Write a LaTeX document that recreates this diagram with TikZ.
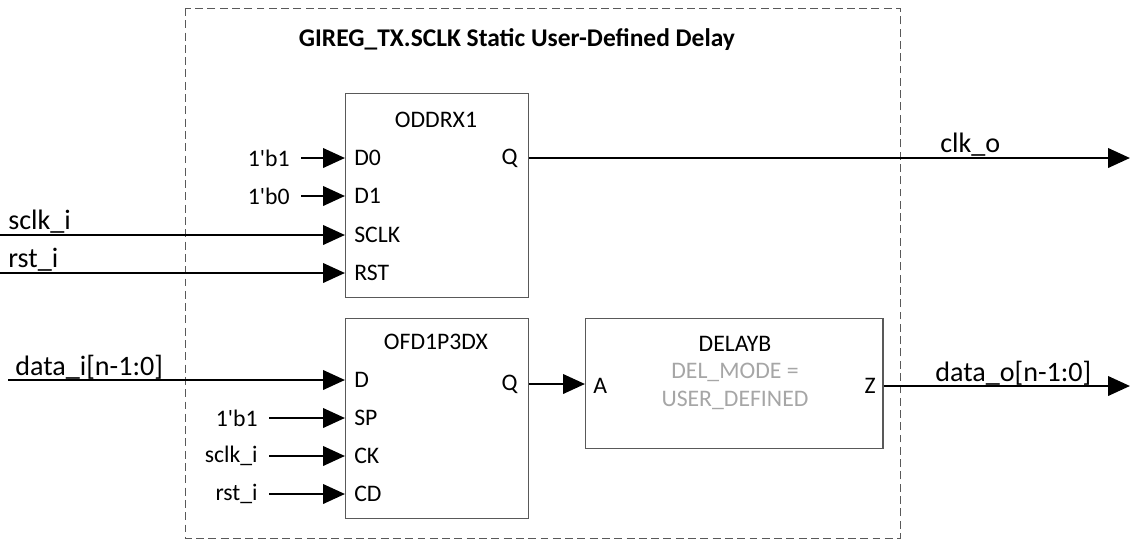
\documentclass[tikz,border=0pt]{standalone}
\usepackage{fontspec}
\setmainfont{Carlito}
\usetikzlibrary{positioning,arrows.meta}
\definecolor{frame}{HTML}{595959}
\definecolor{param}{HTML}{A6A6A6}

\begin{document}
\begin{tikzpicture}[x=0.02cm, y=-0.02cm,
      blk/.style={draw=frame, line width=0.6pt, anchor=north west,
      inner sep=0pt},
      port/.style={font=\fontsize{13.5}{15}\selectfont, inner sep=0pt},
      tag/.style={font=\fontsize{13.5}{15}\selectfont, inner sep=0pt,
      anchor=east},
      sig/.style={-{Triangle[length=12.5pt, width=11pt]}, line width=1.6pt},
      fromtag/.style={shorten <=6.5pt},
      wire/.style={font=\fontsize{16}{18}\selectfont, inner sep=0pt,
      anchor=base west},
    ]
    \useasboundingbox (0,0) rectangle (1130,542);

    % Wrapper
    \draw[frame, dash pattern=on 4.5pt off 2.5pt, line width=0.5pt]
      (185,8) rectangle (900,538);
    \node[font=\bfseries\fontsize{14.5}{16}\selectfont] (title) at (517,40)
      {GIREG\_TX.SCLK Static User-Defined Delay};

    % ODDRX1
    \node[blk, minimum width=3.66cm, minimum height=4.08cm] (oddr) at (345,93) {};
    \node[port] (oddrname) at (436,120) {ODDRX1};
    \node[port, anchor=west] (d0) at (354,158) {D0};
    \node[port, anchor=west] (d1) at (354,196) {D1};
    \node[port, anchor=west] (sclk) at (354,235) {SCLK};
    \node[port, anchor=west] (rst) at (354,273) {RST};
    \node[port, anchor=east] (q0) at (518,158) {Q};
    \node[tag] (b1a) at (290,158) {1\textquotesingle b1};
    \node[tag] (b0a) at (290,196) {1\textquotesingle b0};
    \draw[sig, fromtag] (b1a) -- (d0 -| oddr.west);
    \draw[sig, fromtag] (b0a) -- (d1 -| oddr.west);

    % OFD1P3DX
    \node[blk, minimum width=3.66cm, minimum height=4cm] (ofd) at (345,318) {};
    \node[port] (ofdname) at (436,342) {OFD1P3DX};
    \node[port, anchor=west] (dd) at (354,380) {D};
    \node[port, anchor=west] (sp) at (354,418) {SP};
    \node[port, anchor=west] (ck) at (354,456) {CK};
    \node[port, anchor=west] (cd) at (354,494) {CD};
    \node[port, anchor=east] (q1) at (518,384) {Q};
    \node[tag] (b1b) at (258,418) {1\textquotesingle b1};
    \node[tag] (sclkb) at (258,456) {sclk\_i};
    \node[tag] (rstb) at (258,494) {rst\_i};
    \draw[sig, fromtag] (b1b) -- (sp -| ofd.west);
    \draw[sig, fromtag] (sclkb) -- (ck -| ofd.west);
    \draw[sig, fromtag] (rstb) -- (cd -| ofd.west);

    % DELAYB
    \node[blk, minimum width=5.95cm, minimum height=2.6cm] (dly) at (585,318) {};
    \node[port] (dlyname) at (735,344) {DELAYB};
    \node[port, text=param] (mode1) at (735,372) {DEL\_MODE =};
    \node[port, text=param] (mode2) at (735,400) {USER\_DEFINED};
    \node[port, anchor=west] (aa) at (593,386) {A};
    \node[port, anchor=east] (zz) at (876,386) {Z};
    \draw[sig] (q1 -| ofd.east) -- (q1 -| dly.west);

    % Top level ports
    \coordinate (sclkin) at (0,235);
    \coordinate (rstin) at (0,273);
    \coordinate (datain) at (8,380);
    \coordinate (clkout) at (1130,158);
    \coordinate (dataout) at (1130,386);
    \draw[sig] (sclkin) -- (sclk -| oddr.west);
    \draw[sig] (rstin) -- (rst -| oddr.west);
    \draw[sig] (datain) -- (dd -| ofd.west);
    \draw[sig] (q0 -| oddr.east) -- (clkout);
    \draw[sig] (zz -| dly.east) -- (dataout);
    \node[wire] (sclklbl) at (8,229) {sclk\_i};
    \node[wire] (rstlbl) at (8,267) {rst\_i};
    \node[wire] (datailbl) at (15,375) {data\_i[n-1:0]};
    \node[wire] (clkolbl) at (940,152) {clk\_o};
    \node[wire] (dataolbl) at (935,381) {data\_o[n-1:0]};
  \end{tikzpicture}
\end{document}
